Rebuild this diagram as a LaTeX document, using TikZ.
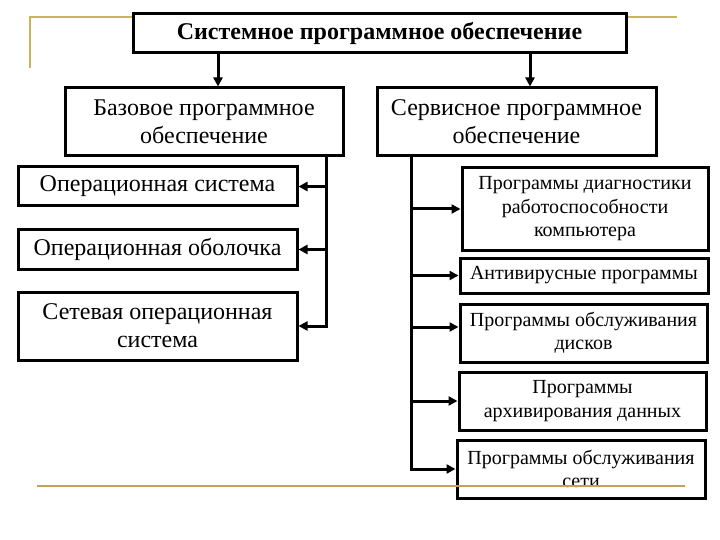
\documentclass[tikz,border=0pt]{standalone}
\usepackage{fontspec}
\setmainfont{Liberation Serif}
\usetikzlibrary{arrows.meta}
\begin{document}
\begin{tikzpicture}[x=1pt,y=-1pt,
  box/.style={draw,line width=3pt,fill=white,align=center,inner sep=0pt},
  big/.style={font=\fontsize{24}{28}\selectfont},
  small/.style={font=\fontsize{20}{23.5}\selectfont},
  arr/.style={line width=3pt,-{Triangle[length=9pt,width=9pt]}},
  gold/.style={line width=2.4pt,color=goldc},
  goldb/.style={line width=2.6pt,color=goldd}]
\definecolor{goldc}{RGB}{200,180,90}
\definecolor{goldd}{RGB}{196,160,96}
\fill[white] (0,0) rectangle (720,540);
\useasboundingbox (0,0) rectangle (720,540);
\draw[gold] (30,68) -- (30,17) -- (677,17);
\node[box,minimum width=493pt,minimum height=39pt,font=\fontsize{24}{28}\selectfont\bfseries] (top) at (379.5,33.5) {\raisebox{-2pt}{Системное программное обеспечение}};
\node[box,big,minimum width=278pt,minimum height=68pt] (base) at (204,122) {Базовое программное\\обеспечение};
\node[box,big,minimum width=279pt,minimum height=68pt] (serv) at (516.5,122) {Сервисное программное\\обеспечение};
\node[box,big,minimum width=279pt,minimum height=39pt] (os) at (157.5,186.5) {\raisebox{-2pt}{Операционная система}};
\node[box,big,minimum width=279pt,minimum height=39pt] (shell) at (157.5,249.5) {\raisebox{-2pt}{Операционная оболочка}};
\node[box,big,minimum width=279pt,minimum height=68pt] (netos) at (157.5,326) {Сетевая операционная\\система};
\node[box,small,minimum width=246pt,minimum height=82pt] (diag) at (585,209) {Программы диагностики\\работоспособности\\компьютера};
\node[box,small,minimum width=248pt,minimum height=35pt] (anti) at (584,275.5) {\raisebox{-1.5pt}{Антивирусные программы}};
\node[box,small,minimum width=247pt,minimum height=58pt] (disk) at (583.5,333) {Программы обслуживания\\дисков};
\node[box,small,minimum width=247pt,minimum height=58pt] (arch) at (582.5,401) {Программы\\архивирования данных};
\node[box,small,minimum width=248pt,minimum height=58pt] (net) at (581,469) {Программы обслуживания\\сети};
% top arrows
\draw[arr] ([xshift=14pt]base.north |- top.south) -- ([xshift=14pt]base.north);
\draw[arr] ([xshift=13.5pt]serv.north |- top.south) -- ([xshift=13.5pt]serv.north);
% left branch
\coordinate (lv) at ([xshift=-18pt]base.south east);
\draw[arr] (lv) |- (netos.east);
\draw[arr] (os.east -| lv) -- (os.east);
\draw[arr] (shell.east -| lv) -- (shell.east);
% right branch
\coordinate (rv) at ([xshift=36pt]serv.south west);
\draw[arr] (rv) |- (net.west);
\draw[arr] (diag.west -| rv) -- (diag.west);
\draw[arr] (anti.west -| rv) -- (anti.west);
\draw[arr] ([yshift=6pt]disk.west -| rv) -- ([yshift=6pt]disk.west);
\draw[arr] (arch.west -| rv) -- (arch.west);
\draw[goldb] (37,486) -- (685,486);
\end{tikzpicture}
\end{document}
